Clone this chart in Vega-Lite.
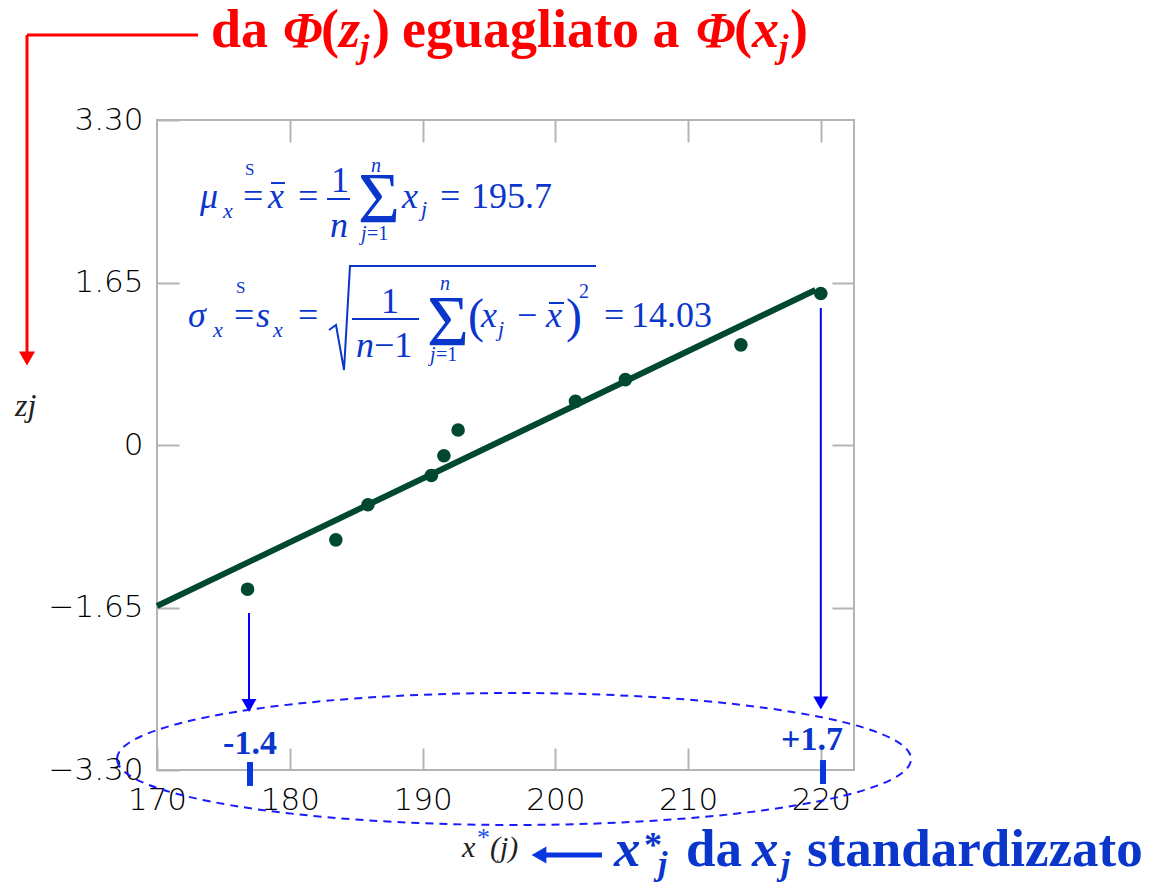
{
  "$schema": "https://vega.github.io/schema/vega-lite/v6.json",
  "width": 697,
  "height": 650,
  "autosize": {"type": "none"},
  "padding": {"left": 157, "top": 120, "right": 303, "bottom": 113},
  "background": "white",
  "datasets": {
    "pts": [
      {"x": 176.82, "y": -1.464},
      {"x": 183.47, "y": -0.963},
      {"x": 185.89, "y": -0.607},
      {"x": 190.67, "y": -0.309},
      {"x": 191.61, "y": -0.109},
      {"x": 192.68, "y": 0.152},
      {"x": 201.52, "y": 0.443},
      {"x": 205.28, "y": 0.664},
      {"x": 213.98, "y": 1.017},
      {"x": 220.0, "y": 1.538}
    ],
    "fit": [{"x": 170, "y": -1.635}, {"x": 219.6, "y": 1.574}],
    "ellipse": [{"x": 196.891, "y": -3.188}],
    "redSeg": [
      {"x": 160.208, "x2": 173.088, "y": 4.163, "y2": 4.163},
      {"x": 160.208, "x2": 160.208, "y": 4.163, "y2": 0.944}
    ],
    "redHead": [{"x": 160.208, "y": 0.878}],
    "blueSeg": [
      {"x": 176.93, "x2": 176.93, "y": -1.706, "y2": -2.589},
      {"x": 220.0, "x2": 220.0, "y": 1.391, "y2": -2.569}
    ],
    "blueHead": [{"x": 176.93, "y": -2.645}, {"x": 220.0, "y": -2.62}],
    "blueBars": [
      {"x": 177.005, "x2": 177.005, "y": -3.219, "y2": -3.462},
      {"x": 220.166, "x2": 220.166, "y": -3.199, "y2": -3.442}
    ],
    "bottomArrow": [{"x": 199.226, "x2": 203.519, "y": -4.163, "y2": -4.163}],
    "bottomHead": [{"x": 198.774, "y": -4.163}],
    "fracBars": [
      {"x": 182.805, "x2": 184.538, "y": 2.498, "y2": 2.498},
      {"x": 178.587, "x2": 179.641, "y": 2.66, "y2": 2.66},
      {"x": 184.688, "x2": 189.735, "y": 1.279, "y2": 1.279},
      {"x": 199.527, "x2": 200.657, "y": 1.442, "y2": 1.442}
    ],
    "radical": [
      {"x": 182.956, "y": 1.168, "o": 1},
      {"x": 183.483, "y": 1.218, "o": 2},
      {"x": 184.086, "y": 0.762, "o": 3},
      {"x": 184.538, "y": 1.818, "o": 4},
      {"x": 203.067, "y": 1.818, "o": 5}
    ]
  },
  "encoding": {
    "x": {"field": "x", "type": "quantitative", "scale": {"domain": [170, 222.5], "nice": false, "zero": false}, "axis": null},
    "y": {"field": "y", "type": "quantitative", "scale": {"domain": [-3.3, 3.3], "nice": false, "zero": false}, "axis": null}
  },
  "layer": [
    {
      "data": {"name": "ellipse"},
      "mark": {"type": "point", "shape": "M-1,0C-1,-0.0918,-0.5523,-0.1662,0,-0.1662C0.5523,-0.1662,1,-0.0918,1,0C1,0.0918,0.5523,0.1662,0,0.1662C-0.5523,0.1662,-1,0.0918,-1,0Z", "size": 630436, "filled": false, "stroke": "#1a1aff", "strokeWidth": 2, "strokeDash": [8, 6], "opacity": 1}
    },
    {
      "data": {"name": "fit"},
      "mark": {"type": "line", "color": "#00482f", "strokeWidth": 6},
      "encoding": {
        "x": {"field": "x", "type": "quantitative", "scale": {"domain": [170, 222.5], "nice": false, "zero": false},
          "axis": {"orient": "top", "values": [180, 190, 200, 210, 220], "tickSize": -22, "tickColor": "#b4b4b4", "tickWidth": 2, "domain": false, "grid": false, "labels": false, "title": null}},
        "y": {"field": "y", "type": "quantitative", "scale": {"domain": [-3.3, 3.3], "nice": false, "zero": false},
          "axis": {"orient": "right", "values": [-1.65, 0, 1.65], "tickSize": -22, "tickColor": "#b4b4b4", "tickWidth": 2, "domain": false, "grid": false, "labels": false, "title": null}}
      }
    },
    {
      "data": {"name": "pts"},
      "mark": {"type": "point", "filled": true, "size": 185, "color": "#00482f", "opacity": 1},
      "encoding": {
        "x": {"field": "x", "type": "quantitative", "scale": {"domain": [170, 222.5], "nice": false, "zero": false},
          "axis": {"orient": "bottom", "values": [170, 180, 190, 200, 210, 220], "tickSize": -22, "tickColor": "#b4b4b4", "tickWidth": 2, "domain": false, "grid": false, "title": null,
            "labelPadding": 37, "labelFont": "DejaVu Sans", "labelFontSize": 31, "labelFontWeight": 200, "labelColor": "#000000", "labelFlush": false, "labelOverlap": false, "labelBound": false}},
        "y": {"field": "y", "type": "quantitative", "scale": {"domain": [-3.3, 3.3], "nice": false, "zero": false},
          "axis": {"orient": "left", "values": [-3.3, -1.65, 0, 1.65, 3.3], "tickSize": -22, "tickColor": "#b4b4b4", "tickWidth": 2, "domain": false, "grid": false, "title": null,
            "labelExpr": "datum.value == 0 ? '0' : format(datum.value, '.2f')",
            "labelPadding": 36, "labelFont": "DejaVu Sans", "labelFontSize": 31, "labelFontWeight": 200, "labelColor": "#000000", "labelFlush": false, "labelOverlap": false, "labelBound": false}}
      }
    },
    {
      "data": {"name": "redSeg"},
      "mark": {"type": "rule", "color": "#ff0000", "strokeWidth": 3},
      "encoding": {"x2": {"field": "x2"}, "y2": {"field": "y2"}}
    },
    {
      "data": {"name": "redHead"},
      "mark": {"type": "point", "shape": "triangle-down", "size": 256, "filled": true, "color": "#ff0000", "opacity": 1}
    },
    {
      "data": {"name": "blueSeg"},
      "mark": {"type": "rule", "color": "#0000ff", "strokeWidth": 2},
      "encoding": {"x2": {"field": "x2"}, "y2": {"field": "y2"}}
    },
    {
      "data": {"name": "blueHead"},
      "mark": {"type": "point", "shape": "triangle-down", "size": 225, "filled": true, "color": "#0000ff", "opacity": 1}
    },
    {
      "data": {"name": "blueBars"},
      "mark": {"type": "rule", "color": "#0a36e0", "strokeWidth": 6},
      "encoding": {"x2": {"field": "x2"}, "y2": {"field": "y2"}}
    },
    {
      "data": {"name": "bottomArrow"},
      "mark": {"type": "rule", "color": "#0a36e0", "strokeWidth": 5},
      "encoding": {"x2": {"field": "x2"}, "y2": {"field": "y2"}}
    },
    {
      "data": {"name": "bottomHead"},
      "mark": {"type": "point", "shape": "triangle-left", "size": 289, "filled": true, "color": "#0a36e0", "opacity": 1}
    },
    {
      "data": {"name": "fracBars"},
      "mark": {"type": "rule", "color": "#0a36cc", "strokeWidth": 2},
      "encoding": {"x2": {"field": "x2"}, "y2": {"field": "y2"}}
    },
    {
      "data": {"name": "radical"},
      "mark": {"type": "line", "color": "#0a36cc", "strokeWidth": 2},
      "encoding": {"order": {"field": "o", "type": "quantitative"}}
    },
    {
      "data": {"values": [
        {"x": 174.067, "y": 4.041, "t": "da"},
        {"x": 182.353, "y": 4.041, "t": "("},
        {"x": 186.195, "y": 4.041, "t": ")"},
        {"x": 188.454, "y": 4.041, "t": "eguagliato a"},
        {"x": 213.462, "y": 4.041, "t": "("},
        {"x": 217.68, "y": 4.041, "t": ")"}
      ]},
      "mark": {"type": "text", "font": "Liberation Serif", "fontSize": 54, "fontWeight": "bold", "color": "#ff0000", "align": "left", "baseline": "alphabetic"},
      "encoding": {"text": {"field": "t"}}
    },
    {
      "data": {"values": [
        {"x": 183.709, "y": 4.041, "t": "z"},
        {"x": 214.818, "y": 4.041, "t": "x"}
      ]},
      "mark": {"type": "text", "font": "Liberation Serif", "fontSize": 54, "fontWeight": "bold", "fontStyle": "italic", "color": "#ff0000", "align": "left", "baseline": "alphabetic"},
      "encoding": {"text": {"field": "t"}}
    },
    {
      "data": {"values": [
        {"x": 179.491, "y": 4.041, "t": "Φ"},
        {"x": 210.6, "y": 4.041, "t": "Φ"}
      ]},
      "mark": {"type": "text", "font": "Liberation Serif", "fontSize": 50, "fontWeight": "bold", "fontStyle": "italic", "color": "#ff0000", "align": "left", "baseline": "alphabetic"},
      "encoding": {"text": {"field": "t"}}
    },
    {
      "data": {"values": [
        {"x": 185.291, "y": 3.93, "t": "j"},
        {"x": 216.852, "y": 3.93, "t": "j"}
      ]},
      "mark": {"type": "text", "font": "Liberation Serif", "fontSize": 34, "fontWeight": "bold", "fontStyle": "italic", "color": "#ff0000", "align": "left", "baseline": "alphabetic"},
      "encoding": {"text": {"field": "t"}}
    },
    {
      "data": {"values": [
        {"x": 173.239, "y": 2.4065, "t": "μ"},
        {"x": 178.361, "y": 2.4065, "t": "x"},
        {"x": 183.031, "y": 2.112, "t": "n"},
        {"x": 188.454, "y": 2.4065, "t": "x"},
        {"x": 172.335, "y": 1.198, "t": "σ"},
        {"x": 177.457, "y": 1.198, "t": "s"},
        {"x": 184.989, "y": 0.894, "t": "n"},
        {"x": 194.405, "y": 1.198, "t": "x"},
        {"x": 199.301, "y": 1.198, "t": "x"}
      ]},
      "mark": {"type": "text", "font": "Liberation Serif", "fontSize": 36, "fontStyle": "italic", "color": "#0a36cc", "align": "left", "baseline": "alphabetic"},
      "encoding": {"text": {"field": "t"}}
    },
    {
      "data": {"values": [
        {"x": 176.478, "y": 2.4065, "t": "="},
        {"x": 180.621, "y": 2.4065, "t": "="},
        {"x": 183.106, "y": 2.569, "t": "1"},
        {"x": 191.317, "y": 2.4065, "t": "="},
        {"x": 193.652, "y": 2.4065, "t": "195.7"},
        {"x": 175.8, "y": 1.198, "t": "="},
        {"x": 180.621, "y": 1.198, "t": "="},
        {"x": 186.873, "y": 1.34, "t": "1"},
        {"x": 186.345, "y": 0.894, "t": "−1"},
        {"x": 197.117, "y": 1.198, "t": "−"},
        {"x": 203.67, "y": 1.198, "t": "="},
        {"x": 205.704, "y": 1.198, "t": "14.03"}
      ]},
      "mark": {"type": "text", "font": "Liberation Serif", "fontSize": 36, "color": "#0a36cc", "align": "left", "baseline": "alphabetic"},
      "encoding": {"text": {"field": "t"}}
    },
    {
      "data": {"values": [
        {"x": 174.971, "y": 2.305, "t": "x"},
        {"x": 189.886, "y": 2.325, "t": "j"},
        {"x": 174.218, "y": 1.097, "t": "x"},
        {"x": 178.738, "y": 1.097, "t": "x"},
        {"x": 195.685, "y": 1.107, "t": "j"}
      ]},
      "mark": {"type": "text", "font": "Liberation Serif", "fontSize": 22, "fontStyle": "italic", "color": "#0a36cc", "align": "left", "baseline": "alphabetic"},
      "encoding": {"text": {"field": "t"}}
    },
    {
      "data": {"values": [
        {"x": 176.629, "y": 2.742, "t": "S"},
        {"x": 175.951, "y": 1.543, "t": "S"}
      ]},
      "mark": {"type": "text", "font": "Liberation Serif", "fontSize": 17, "color": "#0a36cc", "align": "left", "baseline": "alphabetic"},
      "encoding": {"text": {"field": "t"}}
    },
    {
      "data": {"values": [
        {"x": 185.14, "y": 2.264, "t": "Σ"},
        {"x": 190.337, "y": 1.015, "t": "Σ"}
      ]},
      "mark": {"type": "text", "font": "Liberation Serif", "fontSize": 72, "color": "#0a36cc", "align": "left", "baseline": "alphabetic"},
      "encoding": {"text": {"field": "t"}}
    },
    {
      "data": {"values": [
        {"x": 186.119, "y": 2.772, "t": "n"},
        {"x": 185.366, "y": 2.082, "t": "j"},
        {"x": 191.317, "y": 1.574, "t": "n"},
        {"x": 190.563, "y": 0.853, "t": "j"}
      ]},
      "mark": {"type": "text", "font": "Liberation Serif", "fontSize": 20, "fontStyle": "italic", "color": "#0a36cc", "align": "left", "baseline": "alphabetic"},
      "encoding": {"text": {"field": "t"}}
    },
    {
      "data": {"values": [
        {"x": 185.818, "y": 2.082, "t": "=1"},
        {"x": 191.015, "y": 0.853, "t": "=1"},
        {"x": 201.787, "y": 1.493, "t": "2"}
      ]},
      "mark": {"type": "text", "font": "Liberation Serif", "fontSize": 20, "color": "#0a36cc", "align": "left", "baseline": "alphabetic"},
      "encoding": {"text": {"field": "t"}}
    },
    {
      "data": {"values": [
        {"x": 193.426, "y": 1.147, "t": "("},
        {"x": 200.808, "y": 1.147, "t": ")"}
      ]},
      "mark": {"type": "text", "font": "Liberation Serif", "fontSize": 48, "color": "#0a36cc", "align": "left", "baseline": "alphabetic"},
      "encoding": {"text": {"field": "t"}}
    },
    {
      "data": {"values": [
        {"x": 177.005, "y": -3.138, "t": "-1.4"},
        {"x": 219.337, "y": -3.097, "t": "+1.7"}
      ]},
      "mark": {"type": "text", "font": "Liberation Serif", "fontSize": 34, "fontWeight": "bold", "color": "#0a36cc", "align": "center", "baseline": "alphabetic"},
      "encoding": {"text": {"field": "t"}}
    },
    {
      "data": {"values": [
        {"x": 209.847, "y": -4.275, "t": "da"},
        {"x": 218.961, "y": -4.275, "t": "standardizzato"}
      ]},
      "mark": {"type": "text", "font": "Liberation Serif", "fontSize": 53, "fontWeight": "bold", "color": "#0a36cc", "align": "left", "baseline": "alphabetic"},
      "encoding": {"text": {"field": "t"}}
    },
    {
      "data": {"values": [
        {"x": 204.423, "y": -4.275, "t": "x"},
        {"x": 214.818, "y": -4.275, "t": "x"}
      ]},
      "mark": {"type": "text", "font": "Liberation Serif", "fontSize": 53, "fontWeight": "bold", "fontStyle": "italic", "color": "#0a36cc", "align": "left", "baseline": "alphabetic"},
      "encoding": {"text": {"field": "t"}}
    },
    {
      "data": {"values": [
        {"x": 207.737, "y": -4.366, "t": "j"},
        {"x": 217.002, "y": -4.366, "t": "j"}
      ]},
      "mark": {"type": "text", "font": "Liberation Serif", "fontSize": 34, "fontWeight": "bold", "fontStyle": "italic", "color": "#0a36cc", "align": "left", "baseline": "alphabetic"},
      "encoding": {"text": {"field": "t"}}
    },
    {
      "data": {"values": [
        {"x": 206.682, "y": -4.184, "t": "*"}
      ]},
      "mark": {"type": "text", "font": "Liberation Serif", "fontSize": 36, "fontWeight": "bold", "color": "#0a36cc", "align": "left", "baseline": "alphabetic"},
      "encoding": {"text": {"field": "t"}}
    },
    {
      "data": {"values": [
        {"x": 159.304, "y": 0.294, "t": "zj"}
      ]},
      "mark": {"type": "text", "font": "Liberation Serif", "fontSize": 32, "fontStyle": "italic", "color": "#222222", "align": "left", "baseline": "alphabetic"},
      "encoding": {"text": {"field": "t"}}
    },
    {
      "data": {"values": [
        {"x": 192.974, "y": -4.184, "t": "x"},
        {"x": 195.083, "y": -4.184, "t": "(j)"}
      ]},
      "mark": {"type": "text", "font": "Liberation Serif", "fontSize": 30, "fontStyle": "italic", "color": "#222222", "align": "left", "baseline": "alphabetic"},
      "encoding": {"text": {"field": "t"}}
    },
    {
      "data": {"values": [
        {"x": 194.104, "y": -4.072, "t": "*"}
      ]},
      "mark": {"type": "text", "font": "Liberation Serif", "fontSize": 26, "color": "#1a4fe0", "align": "left", "baseline": "alphabetic"},
      "encoding": {"text": {"field": "t"}}
    }
  ],
  "resolve": {"axis": {"x": "independent", "y": "independent"}},
  "config": {
    "view": {"stroke": "#b4b4b4", "strokeWidth": 2}
  }
}
